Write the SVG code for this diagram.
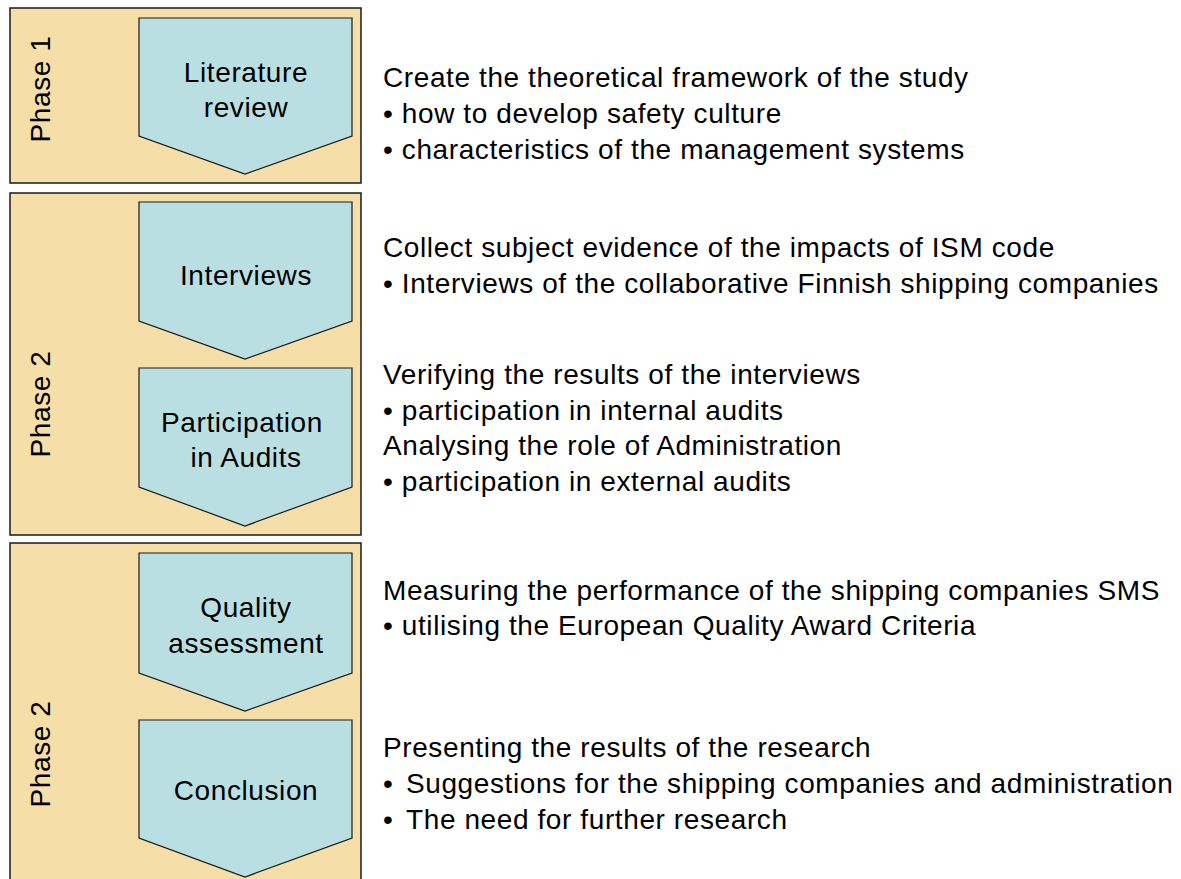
<svg xmlns="http://www.w3.org/2000/svg" width="1181" height="879" viewBox="0 0 1181 879">
<style>
.phase{fill:#F5DEA7;stroke:#1a1a1a;stroke-width:1.5}
.step{fill:#BADFE3;stroke:#1a1a1a;stroke-width:1.2}
.lbl{font-family:"Liberation Sans",Arial,sans-serif;font-size:28px;letter-spacing:0.6px;fill:#000}
.ctr{text-anchor:middle}
</style>
<rect width="1181" height="879" fill="#fff"/>
<g id="phase1">
<rect class="phase" x="10" y="8" width="351" height="175"/>
<text class="lbl ctr" transform="translate(50,89) rotate(-90)">Phase 1</text>
</g>
<g id="phase2a">
<rect class="phase" x="10" y="193" width="351" height="342"/>
<text class="lbl ctr" transform="translate(50,404) rotate(-90)">Phase 2</text>
</g>
<g id="phase2b">
<rect class="phase" x="10" y="543" width="351" height="350"/>
<text class="lbl ctr" transform="translate(50,754) rotate(-90)">Phase 2</text>
</g>
<g id="literature">
<polygon class="step" points="139,18 352,18 352,136 245,174 139,136"/>
<text class="lbl ctr" x="246" y="82">Literature</text>
<text class="lbl ctr" x="246" y="117">review</text>
</g>
<g id="interviews">
<polygon class="step" points="139,202 352,202 352,321 245,359 139,321"/>
<text class="lbl ctr" x="246" y="285">Interviews</text>
</g>
<g id="audits">
<polygon class="step" points="139,368 352,368 352,487 245,526 139,487"/>
<text class="lbl ctr" x="242" y="432">Participation</text>
<text class="lbl ctr" x="246" y="467">in Audits</text>
</g>
<g id="quality">
<polygon class="step" points="139,553 352,553 352,673 245,711 139,673"/>
<text class="lbl ctr" x="246" y="617">Quality</text>
<text class="lbl ctr" x="246" y="653">assessment</text>
</g>
<g id="conclusion">
<polygon class="step" points="139,720 352,720 352,838 245,877 139,838"/>
<text class="lbl ctr" x="246" y="800">Conclusion</text>
</g>
<g id="connectors"></g>
<g id="notes">
<text class="lbl" x="383" y="87">Create the theoretical framework of the study</text>
<text class="lbl" x="383" y="123">• how to develop safety culture</text>
<text class="lbl" x="383" y="159">• characteristics of the management systems</text>
<text class="lbl" x="383" y="257">Collect subject evidence of the impacts of ISM code</text>
<text class="lbl" x="383" y="293">• Interviews of the collaborative Finnish shipping companies</text>
<text class="lbl" x="383" y="384">Verifying the results of the interviews</text>
<text class="lbl" x="383" y="420">• participation in internal audits</text>
<text class="lbl" x="383" y="455">Analysing the role of Administration</text>
<text class="lbl" x="383" y="491">• participation in external audits</text>
<text class="lbl" x="383" y="600">Measuring the performance of the shipping companies SMS</text>
<text class="lbl" x="383" y="635">• utilising the European Quality Award Criteria</text>
<text class="lbl" x="383" y="757">Presenting the results of the research</text>
<text class="lbl" x="383" y="793">•<tspan x="406">Suggestions for the shipping companies and administration</tspan></text>
<text class="lbl" x="383" y="829">•<tspan x="406">The need for further research</tspan></text>
</g>
</svg>
